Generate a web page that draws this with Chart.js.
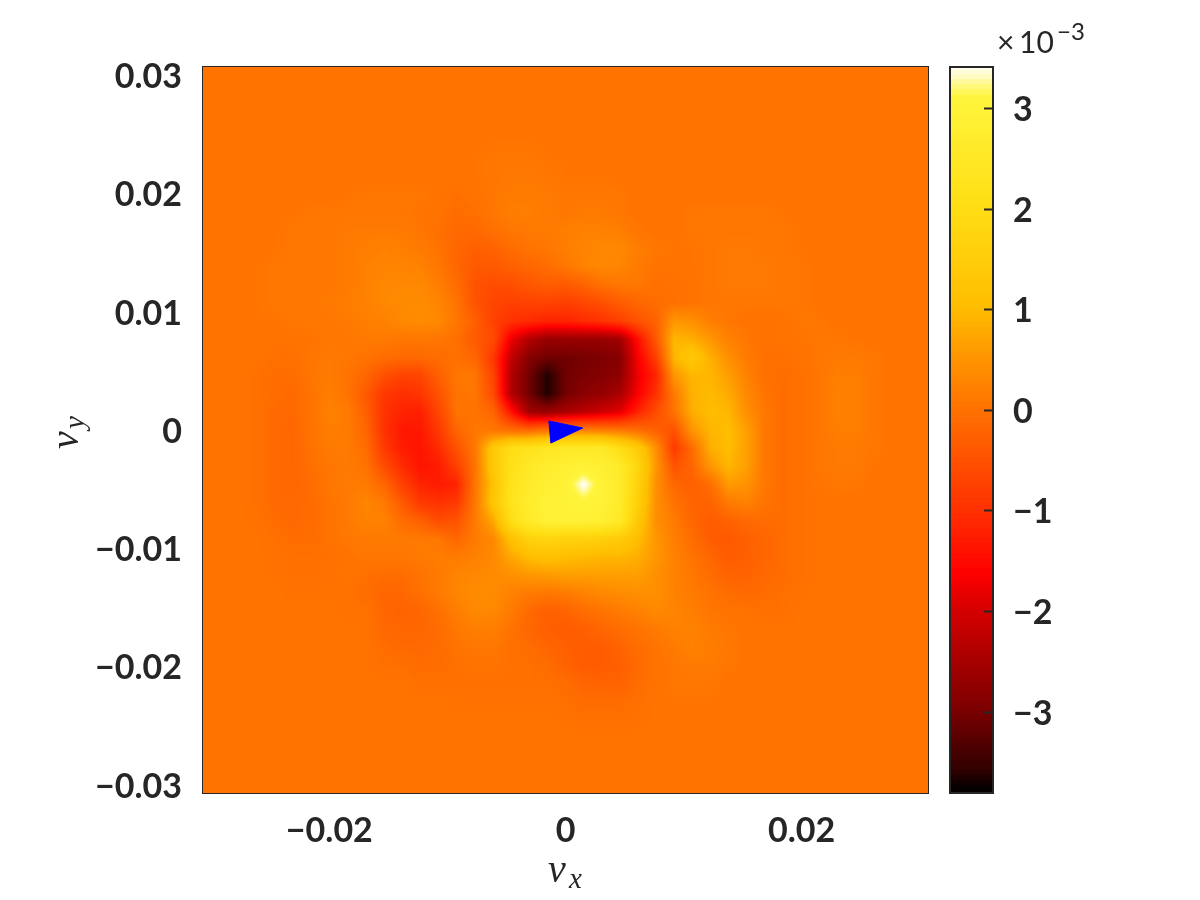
<!DOCTYPE html>
<html>
<head>
<meta charset="utf-8">
<title>vx vy map</title>
<script src="https://cdn.jsdelivr.net/npm/chart.js@4"></script>
<style>
    html, body { margin: 0; padding: 0; background: #fff; }
    canvas { position: absolute; top: 0; }
    #mapChart { left: 0; }
    #barChart { left: 940px; }
</style>
</head>
<body>
<canvas id="mapChart" width="940" height="900"></canvas>
<canvas id="barChart" width="260" height="900"></canvas>
<script>
// values, in units of 1e-3. rows go top to bottom, columns left to right
const heatRows = [
[0,0,0,0,0,0,0,0,0,0, 0,0,0,0,0,0,0,0,0,0, 0,0,0,0,0,0,0,0,0,0, 0,0,0,0,0,0,0,0,0,0,0],
[0,0,0,0,0,0,0,0,0,0, 0,0,0,0,0,0,0,0,0,0, 0,0,0,0,0,0,0,0,0,0, 0,0,0,0,0,0,0,0,0,0,0],
[0,0,0,0,0,0,0,0,0,0, 0,0,0,0,0,0,0,0,0,0, 0,0,0,0,0,0,0,0,0,0, 0,0,0,0,0,0,0,0,0,0,0],
[0,0,0,0,0,0,0,0,0,0, 0,0,0,0,0,0,0,0,0,0, 0,0,0,0,0,0,0,0,0,0, 0,0,0,0,0,0,0,0,0,0,0],
[0,0,0,0,0,0,0,0,0,0, 0,0,0,0,0,0,.02,.02,.02,.02, .02,.02,0,0,0,0,0,0,0,0, 0,0,0,0,0,0,0,0,0,0,0],
[0,0,0,0,0,0,0,0,0,0, 0,0,0,0,0,.02,.05,.05,.05,.02, .02,.02,.02,0,0,0,0,0,0,0, 0,0,0,0,0,0,0,0,0,0,0],
[0,0,0,0,0,0,0,0,0,0, 0,0,0,0,.02,.02,.05,.08,.08,.05, .02,.02,.02,0,0,0,0,0,0,0, 0,0,0,0,0,0,0,0,0,0,0],
[0,0,0,0,0,0,0,0,.02,.05, .05,.05,.05,0,-.05,0,.05,.12,.12,.1, .05,.05,.05,.05,0,0,0,0,0,0, 0,0,0,0,0,0,0,0,0,0,0],
[0,0,0,0,0,.02,.05,.05,.05,.05, .05,.05,.02,0,-.1,-.05,.05,.15,.15,.1, .05,.1,.1,.05,0,0,0,.05,.05,.05, .05,.05,.02,0,0,0,0,0,0,0,0],
[0,0,0,0,.02,.05,.05,.05,.1,.1, .1,.1,.05,-.05,-.15,-.15,-.05,.05,.1,.1, .15,.2,.2,.15,.05,0,0,.05,.05,.05, .05,.05,.05,.02,0,0,0,0,0,0,0],
[0,0,0,0,.02,.05,.05,.05,.1,.15, .2,.15,.1,0,-.2,-.3,-.25,-.1,0,.05, .15,.25,.3,.3,.15,.05,.02,.02,.05,.1, .1,.05,.05,.02,0,0,0,0,0,0,0],
[0,0,0,.02,.05,.05,.05,.05,.1,.2, .25,.25,.2,.05,-.2,-.4,-.4,-.3,-.2,-.1, .05,.2,.3,.25,.1,0,0,.02,.05,.1, .1,.1,.05,.05,0,0,0,0,0,0,0],
[0,0,0,.02,.05,.05,.05,.05,.1,.2, .3,.3,.3,.15,-.1,-.5,-.6,-.55,-.45,-.35, -.4,-.25,-.05,.05,.05,-.05,-.05,0,.05,.1, .1,.1,.05,.05,0,0,0,0,0,0,0],
[0,0,0,.02,.05,.05,.05,.1,.15,.2, .3,.35,.35,.25,0,-.5,-.7,-.8,-.75,-.75, -.8,-.7,-.55,-.35,-.2,-.1,-.05,0,.05,.05, .05,.05,.05,.05,0,0,0,0,0,0,0],
[0,0,0,.02,.02,.05,.05,.05,.1,.15, .2,.3,.35,.3,.05,-.3,-.75,-1,-1.1,-1.2, -1.2,-1.1,-1,-.8,-.5,-.25,.5,.4,.15,.05, 0,-.02,0,.05,.05,0,0,0,0,0,0],
[0,0,.02,.02,0,0,.02,.05,.05,.1, .1,.05,.05,.05,-.05,-.4,-.6,-1.8,-2.4,-2.7, -2.7,-2.7,-2.7,-2.6,-1.5,-.4,.9,.8,.5,.2, .05,-.02,0,.02,.05,.05,.02,0,0,0,0],
[0,0,.02,0,-.05,-.05,.05,.1,.05,0, -.1,-.15,-.15,-.1,-.05,-.2,-.9,-2.2,-2.9,-3.1, -3.1,-3.05,-3,-2.9,-1.7,-.8,.9,1.3,.8,.4, .1,-.05,-.05,0,.05,.1,.1,.05,0,0,0],
[0,0,0,-.05,-.1,-.1,.05,.1,0,-.2, -.55,-.75,-.7,-.3,.05,.05,-.7,-2.4,-3.1,-3.7, -3.1,-3,-2.9,-2.8,-1.8,-1.2,.5,.9,.9,.6, .2,-.05,-.1,-.05,.05,.15,.15,.05,0,0,0],
[0,0,0,-.05,-.1,-.15,0,.15,0,-.4, -.9,-1.05,-.95,-.5,0,.05,-.6,-2.4,-3.1,-3.7, -3.1,-2.85,-2.75,-2.5,-1.7,-1,.1,.85,.95,.75, .3,0,-.1,-.05,.05,.2,.15,.05,0,0,0],
[0,0,0,-.05,-.15,-.15,0,.2,.1,-.3, -1,-1.2,-1.25,-.7,0,0,-.2,-1.4,-2.6,-2.7, -2.5,-2.3,-2.1,-1.9,-1.2,-.6,0,.8,1,.9, .4,.05,-.1,-.05,.05,.2,.15,.05,0,0,0],
[0,0,0,-.05,-.15,-.2,0,.15,.1,-.2, -1,-1.35,-1.35,-.9,-.2,.05,.05,-.1,-.2,0, .2,.2,.1,.05,-.1,-.3,-.5,.5,.9,1, .6,.05,-.1,-.05,.05,.15,.15,.05,0,0,0],
[0,0,0,-.05,-.15,-.2,0,.1,.1,-.1, -.9,-1.3,-1.4,-1.1,-.5,.05,1.3,2,2.2,2.4, 2.5,2.5,2.5,2,1.4,.4,-.9,-.1,.8,1, .6,.05,-.1,-.05,.05,.1,.1,.05,0,0,0],
[0,0,0,-.05,-.15,-.2,-.05,.05,.1,0, -.6,-1.1,-1.4,-1.3,-.8,0,1.3,2.1,2.5,2.7, 2.8,2.9,2.8,2.6,1.7,.5,-.5,-.2,.5,.9, .6,.05,-.1,-.05,.05,.1,.1,.02,0,0,0],
[0,0,0,-.05,-.15,-.2,-.1,.05,.1,.1, -.2,-.8,-1.2,-1.3,-1.2,0,1.1,2.2,2.6,2.8, 2.9,3.41,2.9,2.6,1.6,.4,-.2,-.3,-.1,.55, .45,.05,-.1,-.05,.02,.05,.05,0,0,0,0],
[0,0,0,-.05,-.15,-.15,-.1,0,.1,.25, .1,-.4,-.9,-1,-.9,.05,1.2,2.2,2.7,2.9, 2.9,3,2.9,2.6,1.5,.4,0,-.25,-.25,.1, .2,0,-.1,-.05,0,0,0,0,0,0,0],
[0,0,0,-.02,-.1,-.15,-.1,0,.1,.2, .2,-.1,-.3,-.6,-.5,.1,.7,2,2.6,2.9, 2.9,2.9,2.8,2.5,1.3,.4,.1,-.2,-.35,-.25, -.15,-.1,-.1,-.05,0,0,0,0,0,0,0],
[0,0,0,0,-.05,-.1,-.1,0,.05,.1, .1,.1,.1,.05,-.2,.1,.3,1.1,1.6,1.7, 1.6,1.6,1.5,1.4,1,.5,.15,-.1,-.35,-.4, -.3,-.2,-.1,-.05,0,0,0,0,0,0,0],
[0,0,0,0,-.02,-.05,-.05,-.05,0,.05, .05,.05,.1,.15,.1,.2,.3,.7,1,1.1, 1,.95,.9,.9,.8,.5,.2,0,-.2,-.35, -.3,-.2,-.1,-.05,0,0,0,0,0,0,0],
[0,0,0,0,-.02,-.05,-.05,-.02,0,-.05, -.1,-.1,0,.1,.25,.3,.35,.4,.5,.55, .6,.6,.6,.6,.6,.4,.2,.05,-.1,-.25, -.25,-.15,-.1,-.05,0,0,0,0,0,0,0],
[0,0,0,0,0,-.02,-.02,-.02,-.02,-.1, -.2,-.2,-.05,.1,.25,.35,.35,.2,.1,.05, .1,.2,.3,.35,.4,.4,.2,.1,0,-.1, -.15,-.1,-.05,-.02,0,0,0,0,0,0,0],
[0,0,0,0,0,0,0,0,-.02,-.02, -.2,-.25,-.2,-.05,.15,.3,.3,.1,-.15,-.3, -.25,-.1,0,.1,.2,.3,.25,.15,.05,0, -.02,-.05,-.05,0,0,0,0,0,0,0,0],
[0,0,0,0,0,0,0,0,0,-.02, -.15,-.2,-.2,-.1,.05,.15,.15,0,-.2,-.3, -.35,-.3,-.2,-.1,0,.1,.2,.2,.1,.05, 0,0,0,0,0,0,0,0,0,0,0],
[0,0,0,0,0,0,0,0,0,0, -.1,-.15,-.15,-.1,0,.05,.05,-.05,-.1,-.2, -.3,-.35,-.35,-.25,-.1,0,.1,.2,.15,.05, 0,0,0,0,0,0,0,0,0,0,0],
[0,0,0,0,0,0,0,0,0,0, -.05,-.05,-.1,-.1,-.05,0,0,-.05,-.05,-.1, -.25,-.35,-.35,-.3,-.15,0,.05,.1,.1,.05, 0,0,0,0,0,0,0,0,0,0,0],
[0,0,0,0,0,0,0,0,0,0, 0,0,-.05,-.05,-.05,-.05,-.05,-.05,-.05,-.05, -.1,-.2,-.25,-.25,-.1,0,.05,.05,.05,0, 0,0,0,0,0,0,0,0,0,0,0],
[0,0,0,0,0,0,0,0,0,0, 0,0,0,0,-.02,-.02,-.02,-.02,-.02,-.02, -.05,-.1,-.1,-.1,-.05,0,.02,.02,.02,0, 0,0,0,0,0,0,0,0,0,0,0],
[0,0,0,0,0,0,0,0,0,0, 0,0,0,0,0,0,0,0,0,0, -.02,-.05,-.05,-.05,-.02,0,0,0,0,0, 0,0,0,0,0,0,0,0,0,0,0],
[0,0,0,0,0,0,0,0,0,0, 0,0,0,0,0,0,0,0,0,0, 0,0,0,0,0,0,0,0,0,0, 0,0,0,0,0,0,0,0,0,0,0],
[0,0,0,0,0,0,0,0,0,0, 0,0,0,0,0,0,0,0,0,0, 0,0,0,0,0,0,0,0,0,0, 0,0,0,0,0,0,0,0,0,0,0],
[0,0,0,0,0,0,0,0,0,0, 0,0,0,0,0,0,0,0,0,0, 0,0,0,0,0,0,0,0,0,0, 0,0,0,0,0,0,0,0,0,0,0],
[0,0,0,0,0,0,0,0,0,0, 0,0,0,0,0,0,0,0,0,0, 0,0,0,0,0,0,0,0,0,0, 0,0,0,0,0,0,0,0,0,0,0]
];

const vxMin = -0.0307, vxMax = 0.0307;
const vyMin = -0.0307, vyMax = 0.0307;
const xTickValues = [-0.02, 0, 0.02];
const yTickValues = [-0.03, -0.02, -0.01, 0, 0.01, 0.02, 0.03];
const barTickValues = [-3, -2, -1, 0, 1, 2, 3];
const barMin = -3.81, barMax = 3.41;

// arrow marker, corners in vx / vy
const arrowVx = [-0.00141, 0.00146, -0.00124, -0.00141];
const arrowVy = [0.00076, 0.00017, -0.0011, 0.00076];

// colormap: value, r, g, b
const cmapStops = [
    [-3.81, 0, 0, 0],
    [-3.6, 50, 0, 0],
    [-3, 125, 0, 0],
    [-2, 215, 0, 0],
    [-1.66, 255, 0, 0],
    [-1, 255, 50, 0],
    [0, 255, 115, 0],
    [0.5, 255, 150, 0],
    [1, 255, 190, 0],
    [2, 255, 222, 20],
    [3.08, 255, 245, 60],
    [3.2, 255, 248, 130],
    [3.28, 255, 250, 190],
    [3.41, 255, 255, 255]
];

const inkColor = '#262626';

function cmap(v) {
    if (v <= cmapStops[0][0]) return cmapStops[0].slice(1);
    for (let i = 1; i < cmapStops.length; i++) {
        const a = cmapStops[i - 1], b = cmapStops[i];
        if (v <= b[0]) {
            const t = (v - a[0]) / (b[0] - a[0]);
            return [a[1] + (b[1] - a[1]) * t, a[2] + (b[2] - a[2]) * t, a[3] + (b[3] - a[3]) * t];
        }
    }
    return [255, 255, 255];
}

function formatTick(v) {
    return String(v).replace('-', '\u2212');
}

const nCols = heatRows[0].length, nRows = heatRows.length;
const heatPoints = [];
heatRows.forEach((row, r) => {
    row.forEach((v, c) => {
        heatPoints.push({
            x: vxMin + (vxMax - vxMin) * c / (nCols - 1),
            y: vyMax - (vyMax - vyMin) * r / (nRows - 1),
            v: v
        });
    });
});

// interp shading of the grid, placed through the chart scales
const heatPlugin = {
    id: 'heat',
    beforeDatasetsDraw(chart) {
        const { ctx, chartArea, scales } = chart;
        const left = Math.round(chartArea.left), top = Math.round(chartArea.top);
        const w = Math.round(chartArea.right) - left, h = Math.round(chartArea.bottom) - top;
        const img = ctx.createImageData(w, h);
        for (let py = 0; py < h; py++) {
            const vy = scales.y.getValueForPixel(top + py + 0.5);
            const fr = Math.min(nRows - 1.001, Math.max(0, (vyMax - vy) / (vyMax - vyMin) * (nRows - 1)));
            const r0 = Math.floor(fr), tr = fr - r0;
            for (let px = 0; px < w; px++) {
                const vx = scales.x.getValueForPixel(left + px + 0.5);
                const fc = Math.min(nCols - 1.001, Math.max(0, (vx - vxMin) / (vxMax - vxMin) * (nCols - 1)));
                const c0 = Math.floor(fc), tc = fc - c0;
                const v = (heatRows[r0][c0] * (1 - tc) + heatRows[r0][c0 + 1] * tc) * (1 - tr)
                    + (heatRows[r0 + 1][c0] * (1 - tc) + heatRows[r0 + 1][c0 + 1] * tc) * tr;
                const rgb = cmap(v);
                const k = (py * w + px) * 4;
                img.data[k] = rgb[0];
                img.data[k + 1] = rgb[1];
                img.data[k + 2] = rgb[2];
                img.data[k + 3] = 255;
            }
        }
        ctx.putImageData(img, left, top);
    },
    afterDraw(chart) {
        const { ctx, chartArea } = chart;
        ctx.save();
        ctx.strokeStyle = inkColor;
        ctx.lineWidth = 1;
        ctx.strokeRect(Math.round(chartArea.left) - 0.5, Math.round(chartArea.top) - 0.5,
            Math.round(chartArea.right - chartArea.left) + 1, Math.round(chartArea.bottom - chartArea.top) + 1);

        // axis labels with subscripts
        ctx.fillStyle = inkColor;
        ctx.textBaseline = 'alphabetic';
        ctx.font = 'italic 40px "Liberation Serif"';
        ctx.fillText('v', 548, 882);
        ctx.font = 'italic 29px "Liberation Serif"';
        ctx.fillText('x', 569, 888);
        ctx.translate(78, 449);
        ctx.rotate(-Math.PI / 2);
        ctx.font = 'italic 40px "Liberation Serif"';
        ctx.fillText('v', 0, 0);
        ctx.font = 'italic 29px "Liberation Serif"';
        ctx.fillText('y', 20, 6);
        ctx.restore();
    }
};

new Chart(document.getElementById('mapChart').getContext('2d'), {
    type: 'scatter',
    data: {
        datasets: [{
            label: 'map',
            data: heatPoints,
            pointRadius: 0,
            pointHoverRadius: 0
        }, {
            label: 'arrow',
            data: arrowVx.map((vx, i) => ({ x: vx, y: arrowVy[i] })),
            showLine: true,
            fill: 'shape',
            tension: 0,
            borderWidth: 1,
            borderColor: '#0000ff',
            backgroundColor: '#0000ff',
            pointRadius: 0
        }]
    },
    options: {
        responsive: false,
        animation: false,
        events: [],
        layout: { padding: { top: 67, right: 12, left: 0, bottom: 0 } },
        plugins: { legend: { display: false }, tooltip: { enabled: false } },
        scales: {
            x: {
                type: 'linear',
                min: vxMin,
                max: vxMax,
                afterBuildTicks: scale => { scale.ticks = xTickValues.map(v => ({ value: v })); },
                afterFit: scale => { scale.height = 107; },
                grid: { display: false },
                border: { display: false },
                ticks: {
                    color: inkColor,
                    font: { family: 'Lato', weight: 'bold', size: 34 },
                    padding: 10,
                    maxRotation: 0,
                    callback: formatTick
                }
            },
            y: {
                type: 'linear',
                min: vyMin,
                max: vyMax,
                afterBuildTicks: scale => { scale.ticks = yTickValues.map(v => ({ value: v })); },
                afterFit: scale => { scale.width = 203; },
                grid: { display: false },
                border: { display: false },
                ticks: {
                    color: inkColor,
                    font: { family: 'Lato', weight: 'bold', size: 34 },
                    padding: 13,
                    labelOffset: 2,
                    callback: formatTick
                }
            }
        }
    },
    plugins: [heatPlugin]
});

// colorbar: one floating bar per colour level
const barLevels = 144;
const barDatasets = [];
for (let i = 0; i < barLevels; i++) {
    const lo = barMin + (barMax - barMin) * i / barLevels;
    const hi = barMin + (barMax - barMin) * (i + 1.5) / barLevels;
    const rgb = cmap((lo + barMin + (barMax - barMin) * (i + 1) / barLevels) / 2);
    barDatasets.push({
        data: [[lo, Math.min(hi, barMax)]],
        backgroundColor: `rgb(${rgb.map(Math.round).join(',')})`,
        borderWidth: 0,
        barPercentage: 1,
        categoryPercentage: 1,
        grouped: false
    });
}

const barFrame = {
    id: 'barFrame',
    afterDraw(chart) {
        const { ctx, chartArea, scales } = chart;
        ctx.save();
        ctx.strokeStyle = inkColor;
        ctx.lineWidth = 2;
        ctx.strokeRect(chartArea.left, chartArea.top, chartArea.right - chartArea.left, chartArea.bottom - chartArea.top);
        barTickValues.forEach(v => {
            const y = Math.round(scales.y.getPixelForValue(v)) + 0.5;
            ctx.beginPath();
            ctx.moveTo(chartArea.right - 9, y);
            ctx.lineTo(chartArea.right, y);
            ctx.stroke();
        });
        // exponent above the bar
        ctx.fillStyle = inkColor;
        ctx.textBaseline = 'alphabetic';
        ctx.font = '30px "Lato"';
        ctx.fillText('\u00d7', 57, 53);
        ctx.fillText('10', 79, 53);
        ctx.font = '24px "Lato"';
        ctx.fillText('\u22123', 117, 40);
        ctx.restore();
    }
};

new Chart(document.getElementById('barChart').getContext('2d'), {
    type: 'bar',
    data: { labels: ['level'], datasets: barDatasets },
    options: {
        responsive: false,
        animation: false,
        events: [],
        layout: { padding: { top: 67, bottom: 107, left: 10, right: 0 } },
        plugins: { legend: { display: false }, tooltip: { enabled: false } },
        scales: {
            x: { display: false },
            y: {
                type: 'linear',
                position: 'right',
                min: barMin,
                max: barMax,
                afterBuildTicks: scale => { scale.ticks = barTickValues.map(v => ({ value: v })); },
                afterFit: scale => { scale.width = 207; },
                grid: { display: false },
                border: { display: false },
                ticks: {
                    color: inkColor,
                    font: { family: 'Lato', weight: 'bold', size: 34 },
                    padding: 12,
                    labelOffset: 2,
                    callback: formatTick
                }
            }
        }
    },
    plugins: [barFrame]
});
</script>
</body>
</html>
